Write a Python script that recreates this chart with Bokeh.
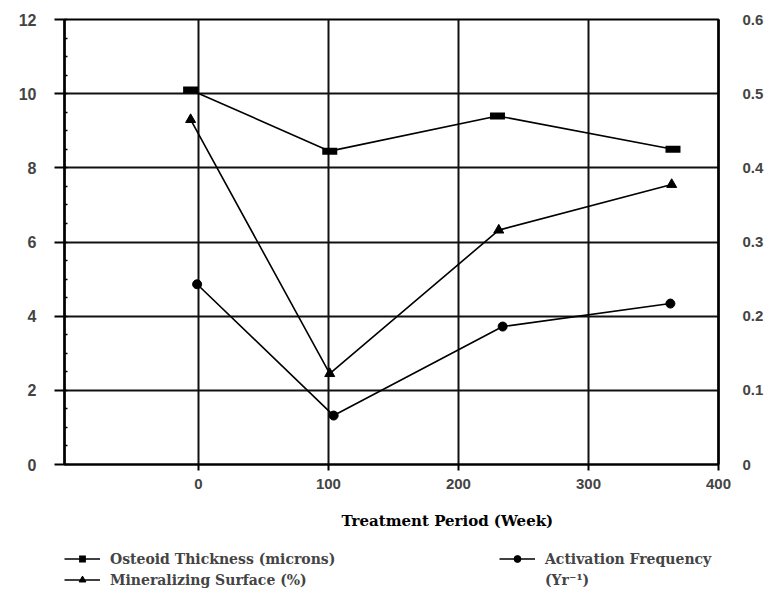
from bokeh.plotting import figure
from bokeh.layouts import column
from bokeh.models import (Range1d, LinearAxis, FixedTicker, Legend, LegendItem,
                          Title, CustomJSTickFormatter)
from bokeh.embed import file_html
from bokeh.resources import INLINE

# ---- data ----
weeks_ot = [-6, 101, 230, 365]
osteoid_thickness = [10.1, 8.45, 9.4, 8.5]

weeks_ms = [-6, 101, 231, 364]
mineralizing_surface = [9.3, 2.45, 6.32, 7.55]

weeks_af = [-1, 104, 234, 363]
activation_frequency = [0.243, 0.066, 0.186, 0.217]

x_ticks = [0, 100, 200, 300, 400]
left_ticks = [0, 2, 4, 6, 8, 10, 12]
right_ticks = [0, 0.1, 0.2, 0.3, 0.4, 0.5, 0.6]

TICK_FONT = "Liberation Sans"
TEXT_FONT = "DejaVu Serif"

p = figure(frame_width=654, frame_height=445,
           output_backend="svg", toolbar_location=None,
           x_range=Range1d(-103, 400), y_range=Range1d(0, 12),
           min_border_left=64, min_border_right=48, min_border_top=19,
           min_border_bottom=0)
p.extra_y_ranges = {"right": Range1d(0, 0.6)}

p.outline_line_color = "black"
p.outline_line_width = 2

# grids
p.xgrid.ticker = FixedTicker(ticks=x_ticks)
p.ygrid.ticker = FixedTicker(ticks=left_ticks)
for g in (p.xgrid, p.ygrid):
    g.grid_line_color = "#111111"
    g.grid_line_width = 2

# bottom axis
xa = p.xaxis[0]
xa.ticker = FixedTicker(ticks=x_ticks)
xa.axis_line_width = 2
xa.major_tick_out = 6
xa.major_tick_in = 0
xa.major_tick_line_width = 2
xa.minor_tick_line_color = None
xa.major_label_standoff = 8
xa.major_label_text_font = TICK_FONT
xa.major_label_text_font_style = "bold"
xa.major_label_text_font_size = "15px"

# left axis
ya = p.yaxis[0]
ya.ticker = FixedTicker(ticks=left_ticks,
                        minor_ticks=[v * 0.5 for v in range(0, 25)])
ya.axis_line_width = 2.5
ya.major_tick_out = 10
ya.major_tick_in = 0
ya.major_tick_line_width = 2
ya.minor_tick_in = 3
ya.minor_tick_out = 0
ya.minor_tick_line_width = 1.5
ya.major_label_standoff = 18
ya.major_label_text_font = TICK_FONT
ya.major_label_text_font_style = "bold"
ya.major_label_text_font_size = "16px"

# right axis
ra = LinearAxis(y_range_name="right", ticker=FixedTicker(ticks=right_ticks))
ra.formatter = CustomJSTickFormatter(code="return tick == 0 ? '0' : tick.toFixed(1);")
ra.axis_line_width = 2.5
ra.major_tick_out = 0
ra.major_tick_in = 0
ra.minor_tick_line_color = None
ra.major_label_standoff = 24
ra.major_label_text_font = TICK_FONT
ra.major_label_text_font_style = "bold"
ra.major_label_text_font_size = "15px"
p.add_layout(ra, "right")


def draw_series(fig, right_name=None):
    kw_r = {"y_range_name": right_name} if right_name else {}
    l_ot = fig.line(weeks_ot, osteoid_thickness, line_color="black", line_width=1.6)
    m_ot = fig.scatter(weeks_ot, osteoid_thickness, marker="dash", size=15,
                       line_color="black", line_width=7, line_cap="butt")
    l_ms = fig.line(weeks_ms, mineralizing_surface, line_color="black", line_width=1.6)
    m_ms = fig.scatter(weeks_ms, mineralizing_surface, marker="triangle", size=10,
                       fill_color="black", line_color="black")
    l_af = fig.line(weeks_af, activation_frequency, line_color="black",
                    line_width=1.6, **kw_r)
    m_af = fig.scatter(weeks_af, activation_frequency, marker="circle", size=9,
                       fill_color="black", line_color="black", **kw_r)
    return (l_ot, m_ot), (l_ms, m_ms), (l_af, m_af)


draw_series(p, "right")

# x axis title (below the tick labels, shifted right as in the original)
p.add_layout(Title(text="Treatment Period (Week)", align="left", offset=277,
                   standoff=37, text_font=TEXT_FONT, text_font_style="bold",
                   text_font_size="15px", text_color="black"), "below")

# ---- legend strip under the chart (swatches only; series lie outside its range) ----
lg = figure(width=766, height=40, output_backend="svg", toolbar_location=None,
            x_axis_type=None, y_axis_type=None, min_border=0,
            x_range=Range1d(-103, 400), y_range=Range1d(100, 101))
lg.outline_line_color = None
lg.grid.visible = False
ot_r, ms_r, af_r = draw_series(lg)

common = dict(orientation="vertical", glyph_height=17, label_height=17,
              spacing=4, padding=0, margin=0, border_line_color=None,
              background_fill_alpha=0, label_text_font=TEXT_FONT,
              label_text_font_style="bold", label_text_font_size="14px",
              glyph_width=36, label_standoff=10)

leg_a = Legend(items=[
    LegendItem(label="Osteoid Thickness (microns)", renderers=list(ot_r)),
    LegendItem(label="Mineralizing Surface (%)", renderers=list(ms_r)),
], location=(0, 0), **common)
lg.add_layout(leg_a, "center")

leg_b = Legend(items=[
    LegendItem(label="Activation Frequency", renderers=list(af_r)),
    LegendItem(label="(Yr\u207b\u00b9)", renderers=[]),
], location=(435, 0), **common)
lg.add_layout(leg_b, "center")

layout = column(p, lg, spacing=0)
open("out.html", "w").write(file_html(layout, INLINE))
